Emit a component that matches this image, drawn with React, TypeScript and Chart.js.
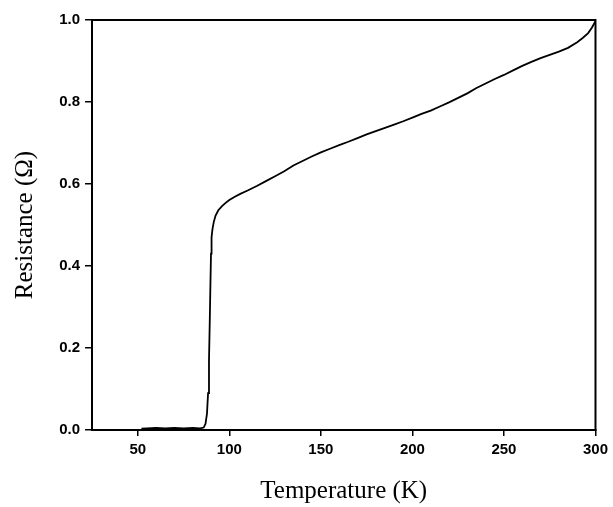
import React, { useEffect, useRef } from "react";
import { Chart, registerables } from "chart.js";

Chart.register(...registerables);

// Temperature (K)
const temperature = [
  52, 55, 60, 65, 70, 75, 80, 84, 86, 87, 87.8, 88.4, 88.9, 89.3, 89.7, 90, 90.3,
  90.8, 91.5, 92.5, 94, 96, 98, 100, 103, 106, 110, 115, 120, 125, 130, 135, 140,
  145, 150, 155, 160, 165, 170, 175, 180, 185, 190, 195, 200, 205, 210, 215, 220,
  225, 230, 235, 240, 245, 250, 255, 260, 265, 270, 275, 280, 285, 290, 293, 296,
  298, 300,
];

// Resistance (Ω)
const resistance = [
  0.003, 0.004, 0.005, 0.004, 0.005, 0.004, 0.005, 0.004, 0.006, 0.015, 0.04, 0.09,
  0.17, 0.26, 0.36, 0.43, 0.47, 0.49, 0.507, 0.523, 0.536, 0.546, 0.554, 0.561,
  0.569, 0.576, 0.584, 0.595, 0.607, 0.619, 0.631, 0.645, 0.656, 0.667, 0.677,
  0.686, 0.695, 0.703, 0.712, 0.721, 0.729, 0.737, 0.745, 0.753, 0.762, 0.771,
  0.779, 0.789, 0.799, 0.81, 0.821, 0.834, 0.845, 0.856, 0.866, 0.877, 0.888,
  0.898, 0.907, 0.915, 0.923, 0.932, 0.946, 0.956, 0.968, 0.981, 0.997,
];

const xTickValues = [50, 100, 150, 200, 250, 300];
const yTickValues = [0, 0.2, 0.4, 0.6, 0.8, 1.0];

const xTitle = "Temperature (K)";
const yTitle = "Resistance (Ω)";

const framePlugin = {
  id: "frame",
  afterDatasetsDraw(chart: any) {
    const { ctx, chartArea } = chart;
    const { left, top, right, bottom } = chartArea;
    ctx.save();
    ctx.strokeStyle = "#000";
    ctx.lineWidth = 2;
    ctx.strokeRect(left, top, right - left, bottom - top);
    ctx.restore();
  },
};

const tickFont = { family: "'Liberation Sans', Arial, sans-serif", size: 15, weight: "bold" as const };
const titleFont = { family: "'Liberation Serif', 'Times New Roman', serif", size: 25, weight: "normal" as const };

export default function App() {
  const ref = useRef<HTMLCanvasElement | null>(null);

  useEffect(() => {
    if (!ref.current) return;
    const chart = new Chart(ref.current, {
      type: "line",
      data: {
        datasets: [
          {
            data: temperature.map((t, i) => ({ x: t, y: resistance[i] })),
            borderColor: "#000",
            borderWidth: 1.8,
            pointRadius: 0,
            tension: 0,
            fill: false,
          },
        ],
      },
      options: {
        responsive: false,
        animation: false,
        layout: { padding: { top: 20, right: 14, left: 0, bottom: 0 } },
        plugins: { legend: { display: false }, tooltip: { enabled: false } },
        scales: {
          x: {
            type: "linear",
            min: 25,
            max: 300,
            afterBuildTicks: (scale: any) => {
              scale.ticks = xTickValues.map((v) => ({ value: v }));
            },
            afterFit: (scale: any) => {
              scale.height = 77;
            },
            ticks: {
              color: "#000",
              font: tickFont,
              padding: 5,
              maxRotation: 0,
              autoSkip: false,
              callback: (v: any) => String(v),
            },
            grid: {
              display: true,
              drawOnChartArea: false,
              drawTicks: true,
              tickLength: 6,
              color: "#000",
              lineWidth: 1.5,
            },
            border: { display: true, color: "#000", width: 2 },
            title: {
              display: true,
              text: xTitle,
              color: "#000",
              font: titleFont,
              padding: { top: 0, bottom: 1 },
            },
          },
          y: {
            type: "linear",
            min: 0,
            max: 1,
            afterBuildTicks: (scale: any) => {
              scale.ticks = yTickValues.map((v) => ({ value: v }));
            },
            afterFit: (scale: any) => {
              scale.width = 92;
            },
            ticks: {
              color: "#000",
              font: tickFont,
              padding: 5,
              autoSkip: false,
              callback: (v: any) => Number(v).toFixed(1),
            },
            grid: {
              display: true,
              drawOnChartArea: false,
              drawTicks: true,
              tickLength: 7,
              color: "#000",
              lineWidth: 1.5,
            },
            border: { display: true, color: "#000", width: 2 },
            title: {
              display: true,
              text: yTitle,
              color: "#000",
              font: titleFont,
              padding: { top: 10, bottom: 0 },
            },
          },
        },
      },
      plugins: [framePlugin],
    });
    return () => chart.destroy();
  }, []);

  return (
    <div style={{ position: "fixed", left: 0, top: 0, width: 613, height: 507, background: "#fff" }}>
      <canvas ref={ref} width={613} height={507} style={{ display: "block" }} />
    </div>
  );
}
